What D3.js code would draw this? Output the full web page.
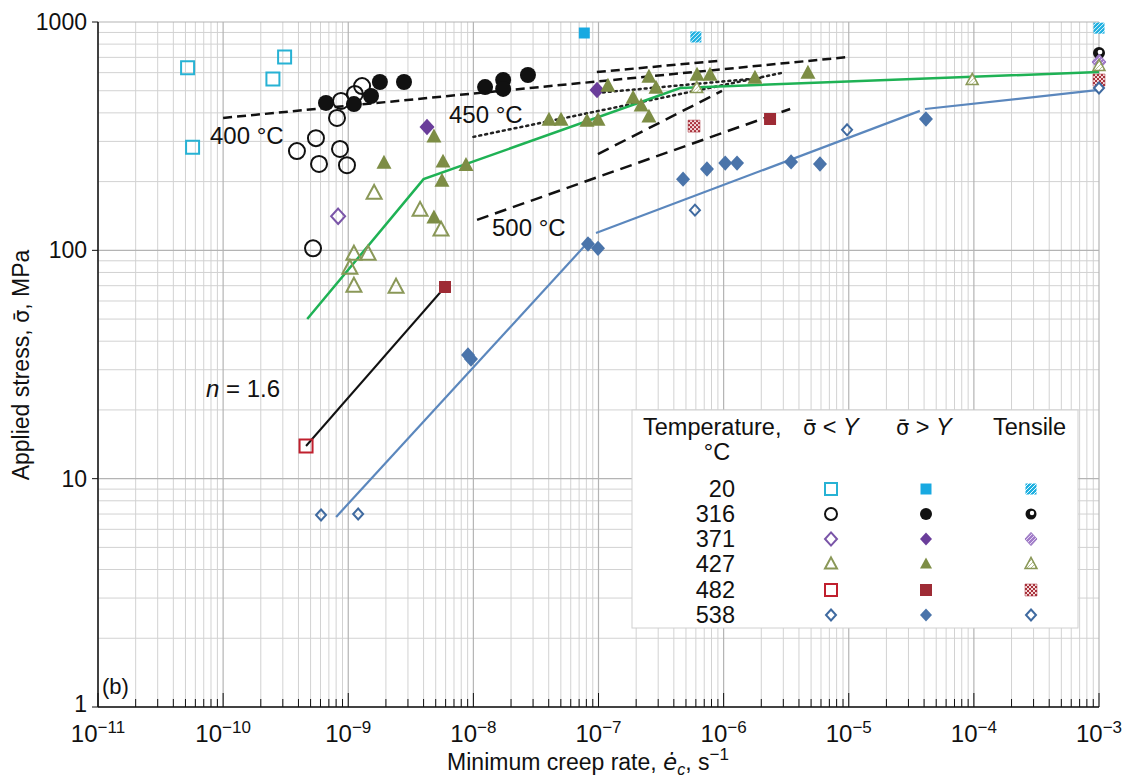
<!DOCTYPE html>
<html><head><meta charset="utf-8">
<script src="https://cdn.jsdelivr.net/npm/d3@7"></script>
<style>
body{margin:0;background:#fff;}
text{font-family:"Liberation Sans",Arial,sans-serif;fill:#111;}
.sig{font-family:"DejaVu Sans",sans-serif;}
</style></head><body>
<svg id="chart" width="1131" height="781"></svg>
<script>
// ---------- data ----------
const xTickVals = [1e-11,1e-10,1e-9,1e-8,1e-7,1e-6,1e-5,1e-4,1e-3];
const xTickExps = ["−11","−10","−9","−8","−7","−6","−5","−4","−3"];
const yTickVals = [1,10,100,1000];
const yTickLabels = ["1","10","100","1000"];
const temps = ["20","316","371","427","482","538"];

const s20Open = [[5.2e-11,630],[5.7e-11,283],[2.5e-10,563],[3.1e-10,703]];
const s20Filled = [[7.7e-8,895]];
const s20Tensile = [[6.0e-7,860],[1e-3,940]];
const s316Open = [[1.29e-9,524],[1.13e-9,484],[8.75e-10,451],[8.13e-10,380],[5.52e-10,310],[3.89e-10,272],[8.59e-10,278],[5.84e-10,239],[9.77e-10,236],[5.23e-10,102]];
const s316Filled = [[6.64e-10,442],[1.11e-9,437],[1.52e-9,474],[1.79e-9,546],[2.79e-9,546],[1.24e-8,519],[1.73e-8,557],[1.73e-8,509],[2.73e-8,586]];
const s316Tensile = [[1e-3,731]];
const s371Open = [[8.3e-10,141]];
const s371Filled = [[4.26e-9,347],[9.73e-8,504]];
const s371Tensile = [[1e-3,668]];
const s427Open = [[1.61e-9,178],[3.75e-9,150],[5.51e-9,123],[1.11e-9,96.4],[1.44e-9,96.4],[1.03e-9,83.7],[1.11e-9,69.8],[2.41e-9,69.1]];
const s427Filled = [[1.93e-9,241],[5.72e-9,244],[5.61e-9,201],[8.73e-9,236],[4.84e-9,139],[4.84e-9,314],[4.02e-8,372],[5.02e-8,372],[8.09e-8,368],[9.91e-8,372],[1.19e-7,524],[2.53e-7,574],[2.88e-7,514],[1.89e-7,465],[2.19e-7,429],[2.53e-7,384],[6.13e-7,586],[7.78e-7,586],[1.78e-6,568],[4.72e-6,598]];
const s427Tensile = [[6.1e-7,514],[9.7e-5,557],[1e-3,642]];
const s482Open = [[4.6e-10,13.9]];
const s482Filled = [[5.93e-9,69.1],[2.35e-6,376]];
const s482Tensile = [[5.8e-7,350],[1e-3,557]];
const s538Open = [[6.06e-10,6.93],[1.2e-9,7.0],[5.9e-7,150],[9.7e-6,337]];
const s538Filled = [[9.06e-9,34.8],[9.57e-9,33.4],[8.24e-8,106.6],[9.91e-8,102],[4.74e-7,205],[7.36e-7,227],[1.03e-6,241],[1.28e-6,241],[3.46e-6,244],[5.89e-6,239],[4.14e-5,376]];
const s538Tensile = [[1e-3,514]];

const fit427 = [[4.7e-10,50],[4.0e-9,205],[4.5e-7,514],[1e-3,604]];
const fit538a = [[8.0e-10,6.8],[8.7e-8,112]];
const fit538b = [[9.55e-8,119],[3.7e-5,408]];
const fit538c = [[4.07e-5,416],[1e-3,504]];
const fit482 = [[4.6e-10,13.9],[5.93e-9,69.1]];
const line400 = [[1e-10,380],[1e-5,703]];
const line400b = [[9.7e-8,604],[8.9e-7,675]];
const line450 = [[1e-8,314],[2.9e-6,598]];
const line450b = [[9.7e-8,489],[1.95e-6,568]];
const line500 = [[1.07e-8,136],[3.4e-6,416]];
const line500b = [[9.9e-8,264],[9.7e-7,499]];

// ---------- setup ----------
const svg = d3.select("#chart");
const X0 = 98, X1 = 1099, Y0 = 707, Y1 = 22;
const x = d3.scaleLog().domain([1e-11,1e-3]).range([X0,X1]);
const y = d3.scaleLog().domain([1,1000]).range([Y0,Y1]);

const defs = svg.append("defs");
function hatch(id, bg, fg){
  const p = defs.append("pattern").attr("id",id).attr("width",4).attr("height",4)
    .attr("patternUnits","userSpaceOnUse");
  p.append("rect").attr("width",4).attr("height",4).attr("fill",bg);
  p.append("path").attr("d","M-1,1 l2,-2 M0,4 l4,-4 M3,5 l2,-2").attr("stroke",fg).attr("stroke-width",1);
}
hatch("hCyan","#1fb0e0","#e8f8ff");
hatch("hPurple","#a27cc9","#e4d6f2");
hatch("hOlive","#ffffff","#b6c08e");
const pc = defs.append("pattern").attr("id","hRed").attr("width",4).attr("height",4).attr("patternUnits","userSpaceOnUse");
pc.append("rect").attr("width",4).attr("height",4).attr("fill","#f4dada");
pc.append("rect").attr("width",2).attr("height",2).attr("fill","#a8323c");
pc.append("rect").attr("x",2).attr("y",2).attr("width",2).attr("height",2).attr("fill","#a8323c");

// ---------- grid ----------
const grid = svg.append("g");
const minorX = [], minorY = [];
for (let e=-11;e<-3;e++) for (let m=2;m<=9;m++) minorX.push(m*Math.pow(10,e));
for (let e=0;e<3;e++) for (let m=2;m<=9;m++) minorY.push(m*Math.pow(10,e));
grid.selectAll(".gx").data(minorX).join("line")
  .attr("x1",d=>x(d)).attr("x2",d=>x(d)).attr("y1",Y1).attr("y2",Y0)
  .attr("stroke","#d2d2d2").attr("stroke-width",1);
grid.selectAll(".gy").data(minorY).join("line")
  .attr("y1",d=>y(d)).attr("y2",d=>y(d)).attr("x1",X0).attr("x2",X1)
  .attr("stroke","#d2d2d2").attr("stroke-width",1);
grid.selectAll(".gX").data(xTickVals).join("line")
  .attr("x1",d=>x(d)).attr("x2",d=>x(d)).attr("y1",Y1).attr("y2",Y0)
  .attr("stroke","#b4b4b4").attr("stroke-width",1.2);
grid.selectAll(".gY").data(yTickVals).join("line")
  .attr("y1",d=>y(d)).attr("y2",d=>y(d)).attr("x1",X0).attr("x2",X1)
  .attr("stroke","#b4b4b4").attr("stroke-width",1.2);

// ---------- axes ----------
const ax = svg.append("g");
ax.append("line").attr("x1",X0).attr("x2",X0).attr("y1",Y1).attr("y2",Y0).attr("stroke","#111").attr("stroke-width",1.5);
ax.append("line").attr("x1",X0).attr("x2",X1).attr("y1",Y0).attr("y2",Y0).attr("stroke","#111").attr("stroke-width",1.5);
ax.selectAll(".tmx").data(minorX).join("line")
  .attr("x1",d=>x(d)).attr("x2",d=>x(d)).attr("y1",Y0).attr("y2",Y0-8).attr("stroke","#111");
ax.selectAll(".tMx").data(xTickVals).join("line")
  .attr("x1",d=>x(d)).attr("x2",d=>x(d)).attr("y1",Y0).attr("y2",Y0-14).attr("stroke","#111");
ax.selectAll(".tMy").data(yTickVals).join("line")
  .attr("y1",d=>y(d)).attr("y2",d=>y(d)).attr("x1",X0-6).attr("x2",X0).attr("stroke","#111");
ax.selectAll(".ly").data(yTickVals).join("text")
  .attr("x",X0-11).attr("y",d=>y(d)+(d===1?5:8)).attr("text-anchor","end").attr("font-size",23)
  .text((d,i)=>yTickLabels[i]);
const xl = ax.selectAll(".lx").data(xTickVals).join("text")
  .attr("x",d=>x(d)).attr("y",742).attr("text-anchor","middle").attr("font-size",24);
xl.append("tspan").text("10");
xl.append("tspan").attr("dy",-9).attr("font-size",17).text((d,i)=>xTickExps[i]);

// axis titles
const xt = svg.append("text").attr("x",588).attr("y",770).attr("text-anchor","middle").attr("font-size",23);
xt.append("tspan").text("Minimum creep rate, ");
xt.append("tspan").attr("class","sig").attr("font-style","italic").text("e\u0307");
xt.append("tspan").attr("font-style","italic").attr("font-size",16).attr("dy",5).text("c");
xt.append("tspan").attr("dy",-5).text(", s");
xt.append("tspan").attr("dy",-10).attr("font-size",17).text("−1");
const yt = svg.append("text").attr("transform","translate(29,365) rotate(-90)").attr("text-anchor","middle")
  .attr("font-size",23);
yt.append("tspan").text("Applied stress, ");
yt.append("tspan").attr("class","sig").attr("font-size",21).text("σ\u0304");
yt.append("tspan").text(", MPa");

// ---------- lines ----------
const line = d3.line().x(d=>x(d[0])).y(d=>y(d[1]));
const lg = svg.append("g").attr("fill","none");
function drawLine(data, color, w, dash, cap){
  lg.append("path").datum(data).attr("d",line).attr("stroke",color).attr("stroke-width",w)
    .attr("stroke-dasharray",dash||null).attr("stroke-linecap",cap||"butt");
}
drawLine(line400,"#111",2.5,"9,5");
drawLine(line400b,"#111",2.5,"9,5");
drawLine(line450,"#222",2.5,"2,4","round");
drawLine(line450b,"#222",2.5,"2,4","round");
drawLine(line500,"#111",2.5,"12,7");
drawLine(line500b,"#111",2.5,"12,7");
drawLine(fit427,"#1fb255",2.5);
drawLine(fit538a,"#5b87bd",2.2);
drawLine(fit538b,"#5b87bd",2.2);
drawLine(fit538c,"#5b87bd",2.2);
drawLine(fit482,"#111",2);

// ---------- markers ----------
function shapePath(type, s){
  const h = s/2;
  if (type==="sq") return `M${-h},${-h}H${h}V${h}H${-h}Z`;
  if (type==="dia") return `M0,${-h*1.1}L${h},0L0,${h*1.1}L${-h},0Z`;
  if (type==="tri") return `M0,${-s*0.55}L${h},${s*0.38}L${-h},${s*0.38}Z`;
  return null;
}
function mark(g, type, px, py, s, fill, stroke, sw){
  if (type==="circ"){
    g.append("circle").attr("cx",px).attr("cy",py).attr("r",s/2)
      .attr("fill",fill).attr("stroke",stroke).attr("stroke-width",sw||0);
  } else if (type==="half"){
    g.append("circle").attr("cx",px).attr("cy",py).attr("r",s/2).attr("fill","#111");
    g.append("circle").attr("cx",px+1).attr("cy",py-1).attr("r",s/5).attr("fill","#fff");
  } else {
    g.append("path").attr("transform",`translate(${px},${py})`).attr("d",shapePath(type,s))
      .attr("fill",fill).attr("stroke",stroke).attr("stroke-width",sw||0);
  }
}
const styles = {
  "20":  [["sq",13,"none","#27b2d4",2],["sq",11,"#18a9e1","none",0],["sq",11,"url(#hCyan)","none",0]],
  "316": [["circ",16,"none","#111",2],["circ",16,"#111","none",0],["half",12,null,null,0]],
  "371": [["dia",14,"none","#7a55a8",2],["dia",15,"#6a3d9a","none",0],["dia",14,"url(#hPurple)","#9a78c2",1]],
  "427": [["tri",15,"none","#8a9858",2],["tri",15,"#7d8d45","none",0],["tri",12,"url(#hOlive)","#8a9858",1.5]],
  "482": [["sq",13,"none","#c0202e",2],["sq",12,"#9e2b35","none",0],["sq",12,"url(#hRed)","#a8323c",0.5]],
  "538": [["dia",10,"none","#3f6aa0",2],["dia",14,"#4a74aa","none",0],["dia",10,"#fff","#3f6aa0",2]]
};
const seriesData = {
  "20":[s20Open,s20Filled,s20Tensile],
  "316":[s316Open,s316Filled,s316Tensile],
  "371":[s371Open,s371Filled,s371Tensile],
  "427":[s427Open,s427Filled,s427Tensile],
  "482":[s482Open,s482Filled,s482Tensile],
  "538":[s538Open,s538Filled,s538Tensile]
};
const mg = svg.append("g");
temps.forEach(t=>{
  seriesData[t].forEach((arr,k)=>{
    const st = styles[t][k];
    arr.forEach(d=>mark(mg, st[0], x(d[0]), y(d[1]), st[1], st[2], st[3], st[4]));
  });
});

// ---------- annotations ----------
svg.append("text").attr("x",210).attr("y",144).attr("font-size",24).text("400 °C");
svg.append("text").attr("x",449).attr("y",123).attr("font-size",24).text("450 °C");
svg.append("text").attr("x",492).attr("y",236).attr("font-size",24).text("500 °C");
const nt = svg.append("text").attr("x",206).attr("y",397).attr("font-size",24);
nt.append("tspan").attr("font-style","italic").text("n");
nt.append("tspan").text(" = 1.6");
svg.append("text").attr("x",102).attr("y",694).attr("font-size",22).text("(b)");

// ---------- legend ----------
const L = svg.append("g");
L.append("rect").attr("x",632).attr("y",410).attr("width",446).attr("height",218)
  .attr("fill","#fff").attr("stroke","#d0d0d0").attr("stroke-width",1);
L.append("text").attr("x",643).attr("y",435).attr("font-size",23.5).text("Temperature,");
L.append("text").attr("x",717).attr("y",460).attr("text-anchor","middle").attr("font-size",23.5).text("°C");
function hdr(xp, op){
  const t = L.append("text").attr("x",xp).attr("y",435).attr("font-size",23.5);
  t.append("tspan").attr("class","sig").attr("font-size",21).text("σ\u0304");
  t.append("tspan").text(" " + op + " ");
  t.append("tspan").attr("font-style","italic").text("Y");
}
hdr(803,"<"); hdr(896,">");
L.append("text").attr("x",993).attr("y",435).attr("font-size",23.5).text("Tensile");
const rowY = [489,514,539,564,590,615];
const colX = [831,926,1031];
temps.forEach((t,i)=>{
  L.append("text").attr("x",735).attr("y",rowY[i]+8).attr("text-anchor","end").attr("font-size",23.5).text(t);
  styles[t].forEach((st,k)=>{
    const s = st[0]==="half" ? 11 : Math.min(st[1],12);
    mark(L, st[0], colX[k], rowY[i], s, st[2], st[3], st[4]);
  });
});
</script>
</body></html>
